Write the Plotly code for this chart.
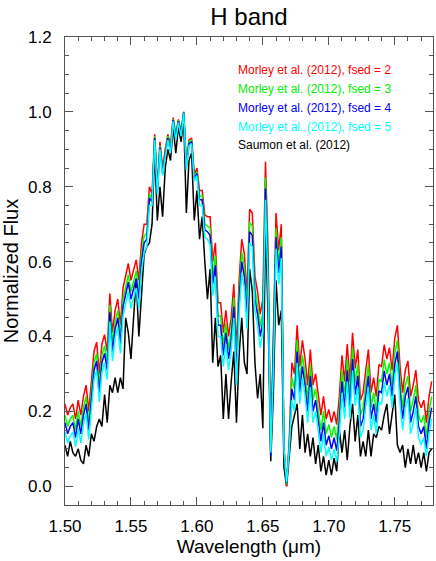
import plotly.graph_objects as go

# wavelength grid (micron)
wavelength = [
    1.500, 1.502, 1.504, 1.506, 1.508, 1.510, 1.512, 1.514, 1.516, 1.518,
    1.520, 1.522, 1.524, 1.526, 1.528, 1.530, 1.532, 1.534, 1.536, 1.538,
    1.540, 1.542, 1.544, 1.546, 1.548, 1.550, 1.552, 1.554, 1.556, 1.558,
    1.560, 1.562, 1.564, 1.566, 1.568, 1.570, 1.572, 1.574, 1.576, 1.578,
    1.580, 1.582, 1.584, 1.586, 1.588, 1.590, 1.592, 1.594, 1.596, 1.598,
    1.600, 1.602, 1.604, 1.606, 1.608, 1.610, 1.612, 1.614, 1.616, 1.618,
    1.620, 1.622, 1.624, 1.626, 1.628, 1.630, 1.632, 1.634, 1.636, 1.638,
    1.640, 1.642, 1.644, 1.646, 1.648, 1.650, 1.652, 1.654, 1.656, 1.658,
    1.660, 1.662, 1.664, 1.666, 1.668, 1.670, 1.672, 1.674, 1.676, 1.678,
    1.680, 1.682, 1.684, 1.686, 1.688, 1.690, 1.692, 1.694, 1.696, 1.698,
    1.700, 1.702, 1.704, 1.706, 1.708, 1.710, 1.712, 1.714, 1.716, 1.718,
    1.720, 1.722, 1.724, 1.726, 1.728, 1.730, 1.732, 1.734, 1.736, 1.738,
    1.740, 1.742, 1.744, 1.746, 1.748, 1.750, 1.752, 1.754, 1.756, 1.758,
    1.760, 1.762, 1.764, 1.766, 1.768, 1.770, 1.772, 1.774, 1.776, 1.778,
]

# Morley et al. (2012), fsed = 2
fsed2 = [
    0.22, 0.19, 0.21, 0.22, 0.18, 0.23, 0.19, 0.24, 0.27, 0.20,
    0.28, 0.36, 0.385, 0.30, 0.38, 0.405, 0.36, 0.515, 0.41, 0.47,
    0.50, 0.43, 0.53, 0.565, 0.595, 0.55, 0.58, 0.605, 0.55, 0.65,
    0.70, 0.70, 0.80, 0.78, 0.94, 0.80, 0.92, 0.85, 0.90, 0.94,
    0.91, 0.985, 0.94, 0.98, 0.95, 1.00, 0.86, 0.925, 0.93, 0.83,
    0.85, 0.79, 0.79, 0.725, 0.72, 0.72, 0.60, 0.65, 0.49, 0.49,
    0.41, 0.47, 0.40, 0.45, 0.54, 0.36, 0.55, 0.66, 0.62, 0.51,
    0.74, 0.73, 0.56, 0.52, 0.46, 0.50, 0.867, 0.62, 0.08, 0.39,
    0.73, 0.63, 0.70, 0.10, 0.00, 0.12, 0.33, 0.30, 0.43, 0.32,
    0.39, 0.34, 0.27, 0.365, 0.27, 0.30, 0.25, 0.19, 0.24, 0.18,
    0.205, 0.17, 0.20, 0.165, 0.24, 0.35, 0.28, 0.38, 0.28, 0.41,
    0.315, 0.365, 0.23, 0.25, 0.31, 0.365, 0.25, 0.29, 0.24, 0.325,
    0.32, 0.378, 0.34, 0.37, 0.31, 0.395, 0.43, 0.32, 0.25, 0.31,
    0.335, 0.24, 0.27, 0.31, 0.23, 0.21, 0.23, 0.17, 0.24, 0.28,
]

# Morley et al. (2012), fsed = 3
fsed3 = [
    0.19, 0.16, 0.18, 0.19, 0.15, 0.20, 0.16, 0.21, 0.24, 0.17,
    0.25, 0.33, 0.355, 0.27, 0.35, 0.375, 0.33, 0.485, 0.38, 0.44,
    0.47, 0.40, 0.50, 0.535, 0.565, 0.52, 0.55, 0.575, 0.52, 0.62,
    0.67, 0.675, 0.78, 0.77, 0.935, 0.79, 0.91, 0.84, 0.89, 0.935,
    0.90, 0.98, 0.935, 0.978, 0.945, 1.00, 0.855, 0.92, 0.925, 0.825,
    0.84, 0.775, 0.775, 0.70, 0.695, 0.69, 0.565, 0.615, 0.455, 0.455,
    0.375, 0.435, 0.365, 0.415, 0.505, 0.325, 0.515, 0.625, 0.585, 0.475,
    0.705, 0.695, 0.525, 0.485, 0.425, 0.465, 0.825, 0.585, 0.08, 0.36,
    0.69, 0.595, 0.665, 0.10, 0.005, 0.11, 0.29, 0.26, 0.39, 0.28,
    0.35, 0.30, 0.23, 0.325, 0.23, 0.26, 0.21, 0.15, 0.20, 0.14,
    0.165, 0.13, 0.16, 0.125, 0.20, 0.31, 0.24, 0.34, 0.24, 0.37,
    0.275, 0.325, 0.19, 0.21, 0.27, 0.325, 0.21, 0.25, 0.20, 0.285,
    0.28, 0.338, 0.30, 0.33, 0.27, 0.355, 0.39, 0.28, 0.21, 0.27,
    0.295, 0.20, 0.23, 0.27, 0.19, 0.17, 0.19, 0.13, 0.20, 0.24,
]

# Morley et al. (2012), fsed = 4
fsed4 = [
    0.17, 0.14, 0.16, 0.17, 0.13, 0.18, 0.14, 0.19, 0.22, 0.15,
    0.23, 0.31, 0.335, 0.25, 0.33, 0.355, 0.31, 0.465, 0.36, 0.42,
    0.45, 0.38, 0.48, 0.515, 0.545, 0.50, 0.53, 0.555, 0.50, 0.60,
    0.65, 0.66, 0.77, 0.76, 0.93, 0.785, 0.905, 0.835, 0.885, 0.93,
    0.895, 0.978, 0.93, 0.975, 0.94, 0.998, 0.85, 0.915, 0.92, 0.82,
    0.835, 0.765, 0.765, 0.685, 0.68, 0.67, 0.54, 0.59, 0.43, 0.43,
    0.35, 0.41, 0.34, 0.39, 0.48, 0.30, 0.49, 0.60, 0.56, 0.45,
    0.68, 0.67, 0.50, 0.46, 0.40, 0.44, 0.795, 0.56, 0.08, 0.34,
    0.665, 0.57, 0.64, 0.10, 0.008, 0.105, 0.26, 0.23, 0.36, 0.25,
    0.32, 0.27, 0.20, 0.295, 0.20, 0.23, 0.18, 0.12, 0.17, 0.11,
    0.135, 0.10, 0.13, 0.095, 0.17, 0.28, 0.21, 0.31, 0.21, 0.34,
    0.245, 0.295, 0.16, 0.18, 0.24, 0.295, 0.18, 0.22, 0.17, 0.255,
    0.25, 0.308, 0.27, 0.30, 0.24, 0.325, 0.36, 0.25, 0.18, 0.24,
    0.265, 0.17, 0.20, 0.24, 0.16, 0.14, 0.16, 0.10, 0.17, 0.21,
]

# Morley et al. (2012), fsed = 5
fsed5 = [
    0.145, 0.115, 0.135, 0.145, 0.105, 0.155, 0.115, 0.165, 0.195, 0.125,
    0.205, 0.285, 0.31, 0.225, 0.305, 0.33, 0.285, 0.44, 0.335, 0.395,
    0.425, 0.355, 0.455, 0.49, 0.52, 0.475, 0.505, 0.53, 0.475, 0.575,
    0.625, 0.64, 0.75, 0.75, 0.925, 0.78, 0.90, 0.83, 0.88, 0.925,
    0.89, 0.975, 0.925, 0.972, 0.935, 0.996, 0.845, 0.91, 0.915, 0.815,
    0.83, 0.75, 0.75, 0.665, 0.66, 0.645, 0.51, 0.56, 0.40, 0.40,
    0.32, 0.38, 0.31, 0.36, 0.45, 0.27, 0.46, 0.57, 0.53, 0.42,
    0.65, 0.64, 0.47, 0.43, 0.37, 0.41, 0.765, 0.53, 0.09, 0.32,
    0.635, 0.54, 0.61, 0.105, 0.01, 0.10, 0.23, 0.20, 0.33, 0.22,
    0.29, 0.24, 0.17, 0.265, 0.17, 0.20, 0.15, 0.09, 0.14, 0.08,
    0.105, 0.07, 0.10, 0.065, 0.14, 0.25, 0.18, 0.28, 0.18, 0.31,
    0.215, 0.265, 0.13, 0.15, 0.21, 0.265, 0.15, 0.19, 0.14, 0.225,
    0.22, 0.278, 0.24, 0.27, 0.21, 0.295, 0.33, 0.22, 0.15, 0.21,
    0.235, 0.14, 0.17, 0.21, 0.13, 0.11, 0.13, 0.08, 0.14, 0.18,
]

# Saumon et al. (2012)
saumon = [
    0.11, 0.08, 0.12, 0.09, 0.08, 0.10, 0.07, 0.06, 0.11, 0.08,
    0.14, 0.12, 0.16, 0.18, 0.16, 0.245, 0.17, 0.27, 0.25, 0.29,
    0.25, 0.29, 0.26, 0.45, 0.41, 0.34, 0.45, 0.555, 0.40, 0.52,
    0.62, 0.64, 0.65, 0.70, 0.90, 0.71, 0.80, 0.72, 0.85, 0.90,
    0.87, 0.96, 0.89, 0.96, 0.92, 0.98, 0.73, 0.87, 0.89, 0.71,
    0.79, 0.66, 0.72, 0.60, 0.50, 0.58, 0.33, 0.45, 0.32, 0.35,
    0.18, 0.30, 0.18, 0.28, 0.36, 0.17, 0.35, 0.45, 0.33, 0.30,
    0.58, 0.52, 0.33, 0.235, 0.30, 0.155, 0.70, 0.45, 0.067, 0.25,
    0.55, 0.43, 0.47, 0.05, 0.00, 0.08, 0.16, 0.19, 0.22, 0.10,
    0.19, 0.09, 0.14, 0.08, 0.13, 0.06, 0.11, 0.04, 0.08, 0.03,
    0.07, 0.03, 0.075, 0.04, 0.15, 0.09, 0.15, 0.07, 0.16, 0.22,
    0.12, 0.19, 0.08, 0.12, 0.08, 0.15, 0.08, 0.14, 0.13, 0.16,
    0.15, 0.19, 0.22, 0.14, 0.20, 0.245, 0.11, 0.09, 0.11, 0.05,
    0.10, 0.06, 0.11, 0.06, 0.09, 0.05, 0.09, 0.04, 0.09, 0.10,
]

FONT = "Liberation Sans, Arial, Helvetica, sans-serif"
AXIS = "#555555"

series = [
    ("Saumon et al. (2012)", saumon, "#000000"),
    ("Morley et al. (2012), fsed = 2", fsed2, "#ff0000"),
    ("Morley et al. (2012), fsed = 3", fsed3, "#00ff00"),
    ("Morley et al. (2012), fsed = 4", fsed4, "#0000ff"),
    ("Morley et al. (2012), fsed = 5", fsed5, "#00ffff"),
]

fig = go.Figure()
for name, flux, color in series:
    fig.add_trace(go.Scatter(x=wavelength, y=flux, mode="lines", name=name,
                             line=dict(color=color, width=1.5), showlegend=False))

# legend drawn as coloured text, IDL style
labels = [
    ("Morley et al. (2012), fsed = 2", "#ff0000"),
    ("Morley et al. (2012), fsed = 3", "#00ee00"),
    ("Morley et al. (2012), fsed = 4", "#0000ff"),
    ("Morley et al. (2012), fsed = 5", "#00ffff"),
    ("Saumon et al. (2012)", "#000000"),
]
label_y = [0.929, 0.889, 0.848, 0.808, 0.769]
for (txt, col), yy in zip(labels, label_y):
    fig.add_annotation(text=txt, xref="paper", yref="paper", x=0.465, y=yy,
                       xanchor="left", yanchor="middle", showarrow=False,
                       font=dict(family=FONT, size=12, color=col))

fig.update_layout(
    width=436, height=561,
    margin=dict(l=65, r=3, t=37, b=56),
    paper_bgcolor="white", plot_bgcolor="white",
    font=dict(family=FONT, size=17, color="#000000"),
    title=dict(text="H band", xref="paper", x=0.5, xanchor="center",
               yref="container", y=0.97, yanchor="middle",
               font=dict(family=FONT, size=24)),
    showlegend=False,
)
fig.update_xaxes(
    range=[1.5, 1.779], tickvals=[1.50, 1.55, 1.60, 1.65, 1.70, 1.75],
    tickformat=".2f", ticks="inside", ticklen=8, tickcolor=AXIS,
    minor=dict(dtick=0.01, tick0=1.5, ticks="inside", ticklen=4, tickcolor=AXIS),
    showline=True, linecolor=AXIS, linewidth=1, mirror="allticks",
    showgrid=False, zeroline=False, automargin=False, ticklabelstandoff=6,
    title=dict(text="Wavelength (μm)", standoff=2, font=dict(size=19)),
)
fig.update_yaxes(
    range=[-0.05, 1.2], tickvals=[0.0, 0.2, 0.4, 0.6, 0.8, 1.0, 1.2],
    tickformat=".1f", ticks="inside", ticklen=8, tickcolor=AXIS,
    minor=dict(dtick=0.05, tick0=0, ticks="inside", ticklen=4, tickcolor=AXIS),
    showline=True, linecolor=AXIS, linewidth=1, mirror="allticks",
    showgrid=False, zeroline=False, automargin=False, ticklabelstandoff=9,
    title=dict(text="Normalized Flux", standoff=6, font=dict(size=20)),
)

# page body margin would otherwise shift the fixed-size figure
fig.write_html("out.html", config={"displayModeBar": False},
               post_script="document.body.style.margin='0';")
